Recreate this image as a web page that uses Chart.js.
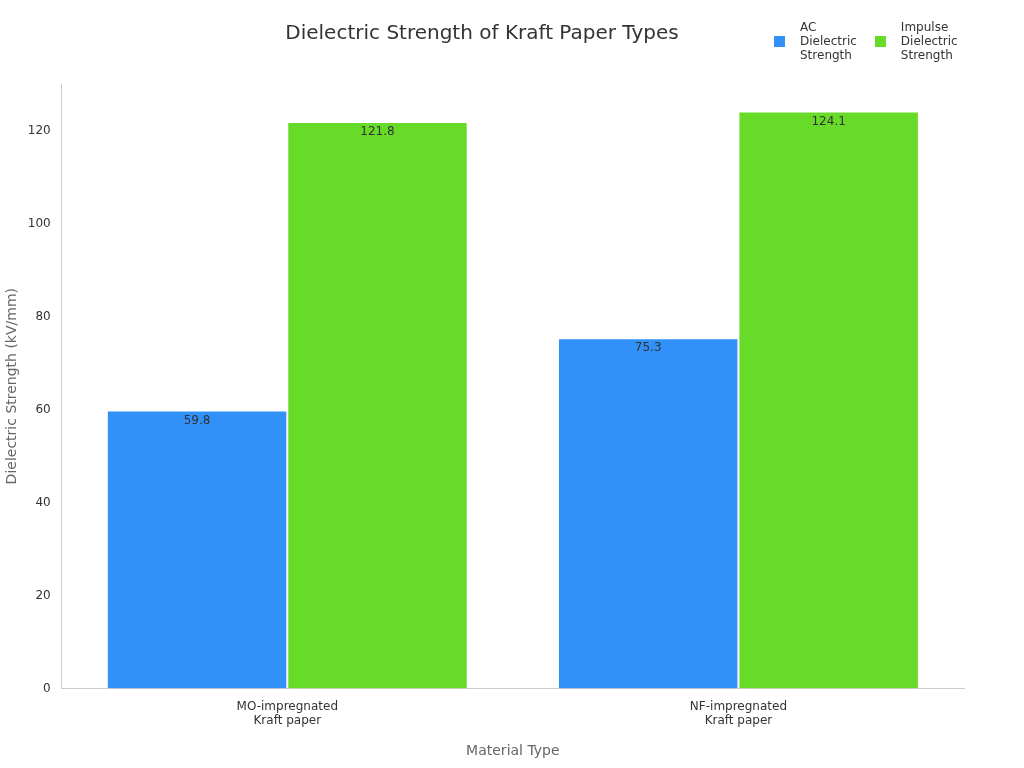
<!DOCTYPE html>
<html>
<head>
<meta charset="utf-8">
<script src="https://cdn.jsdelivr.net/npm/chart.js@4"></script>
<style>
  body { margin: 0; background: #fff; font-family: "DejaVu Sans", sans-serif; }
  #wrap { position: relative; width: 1024px; height: 768px; }
  #legend { position: absolute; top: 20px; left: 774px; display: flex; gap: 18px; font-size: 12px; color: #333; }
  .item { display: flex; align-items: center; }
  .box { width: 11px; height: 11px; margin-right: 15px; }
</style>
</head>
<body>
<div id="wrap">
  <canvas id="chart" width="1024" height="768"></canvas>
  <div id="legend">
    <div class="item"><span class="box" style="background:#3191f8"></span><span>AC<br>Dielectric<br>Strength</span></div>
    <div class="item"><span class="box" style="background:#67db28"></span><span>Impulse<br>Dielectric<br>Strength</span></div>
  </div>
</div>
<script>
const categories = [['MO-impregnated', 'Kraft paper'], ['NF-impregnated', 'Kraft paper']];
const acValues = [59.8, 75.3];
const impulseValues = [121.8, 124.1];

// values printed just inside the top of each bar
const barLabels = {
    id: 'barLabels',
    afterDatasetsDraw(chart) {
        const ctx = chart.ctx;
        ctx.save();
        ctx.font = '12px "DejaVu Sans"';
        ctx.fillStyle = '#333';
        ctx.textAlign = 'center';
        ctx.textBaseline = 'top';
        chart.data.datasets.forEach((ds, i) => {
            chart.getDatasetMeta(i).data.forEach((bar, j) => {
                ctx.fillText(ds.data[j].toFixed(1), bar.x, bar.y + 4);
            });
        });
        ctx.restore();
    }
};

Chart.defaults.font.family = '"DejaVu Sans", sans-serif';
new Chart(document.getElementById('chart').getContext('2d'), {
    type: 'bar',
    data: {
        labels: categories,
        datasets: [
            { label: 'AC Dielectric Strength', data: acValues, backgroundColor: '#3191f8', borderColor: '#fff', borderWidth: 1 },
            { label: 'Impulse Dielectric Strength', data: impulseValues, backgroundColor: '#67db28', borderColor: '#fff', borderWidth: 1 }
        ]
    },
    options: {
        responsive: false,
        animation: false,
        categoryPercentage: 0.8,
        barPercentage: 1,
        layout: { padding: { top: 0, right: 60, left: 0, bottom: 4 } },
        plugins: {
            legend: { display: false },
            tooltip: { enabled: false },
            title: {
                display: true,
                text: 'Dielectric Strength of Kraft Paper Types',
                font: { size: 20, weight: 'normal' },
                color: '#333',
                padding: { top: 22, bottom: 38 }
            }
        },
        scales: {
            x: {
                grid: { display: false },
                border: { color: '#ccc' },
                ticks: { color: '#333', font: { size: 12 } },
                title: { display: true, text: 'Material Type', color: '#666', font: { size: 14 }, padding: { top: 12 } }
            },
            y: {
                min: 0, max: 130,
                grid: { display: false, drawTicks: true },
                border: { color: '#ccc' },
                ticks: {
                    stepSize: 20, color: '#333', font: { size: 12 },
                    callback: v => (v % 20 === 0 ? v : '')
                },
                title: { display: true, text: 'Dielectric Strength (kV/mm)', color: '#666', font: { size: 14 } }
            }
        }
    },
    plugins: [barLabels]
});
</script>
</body>
</html>
